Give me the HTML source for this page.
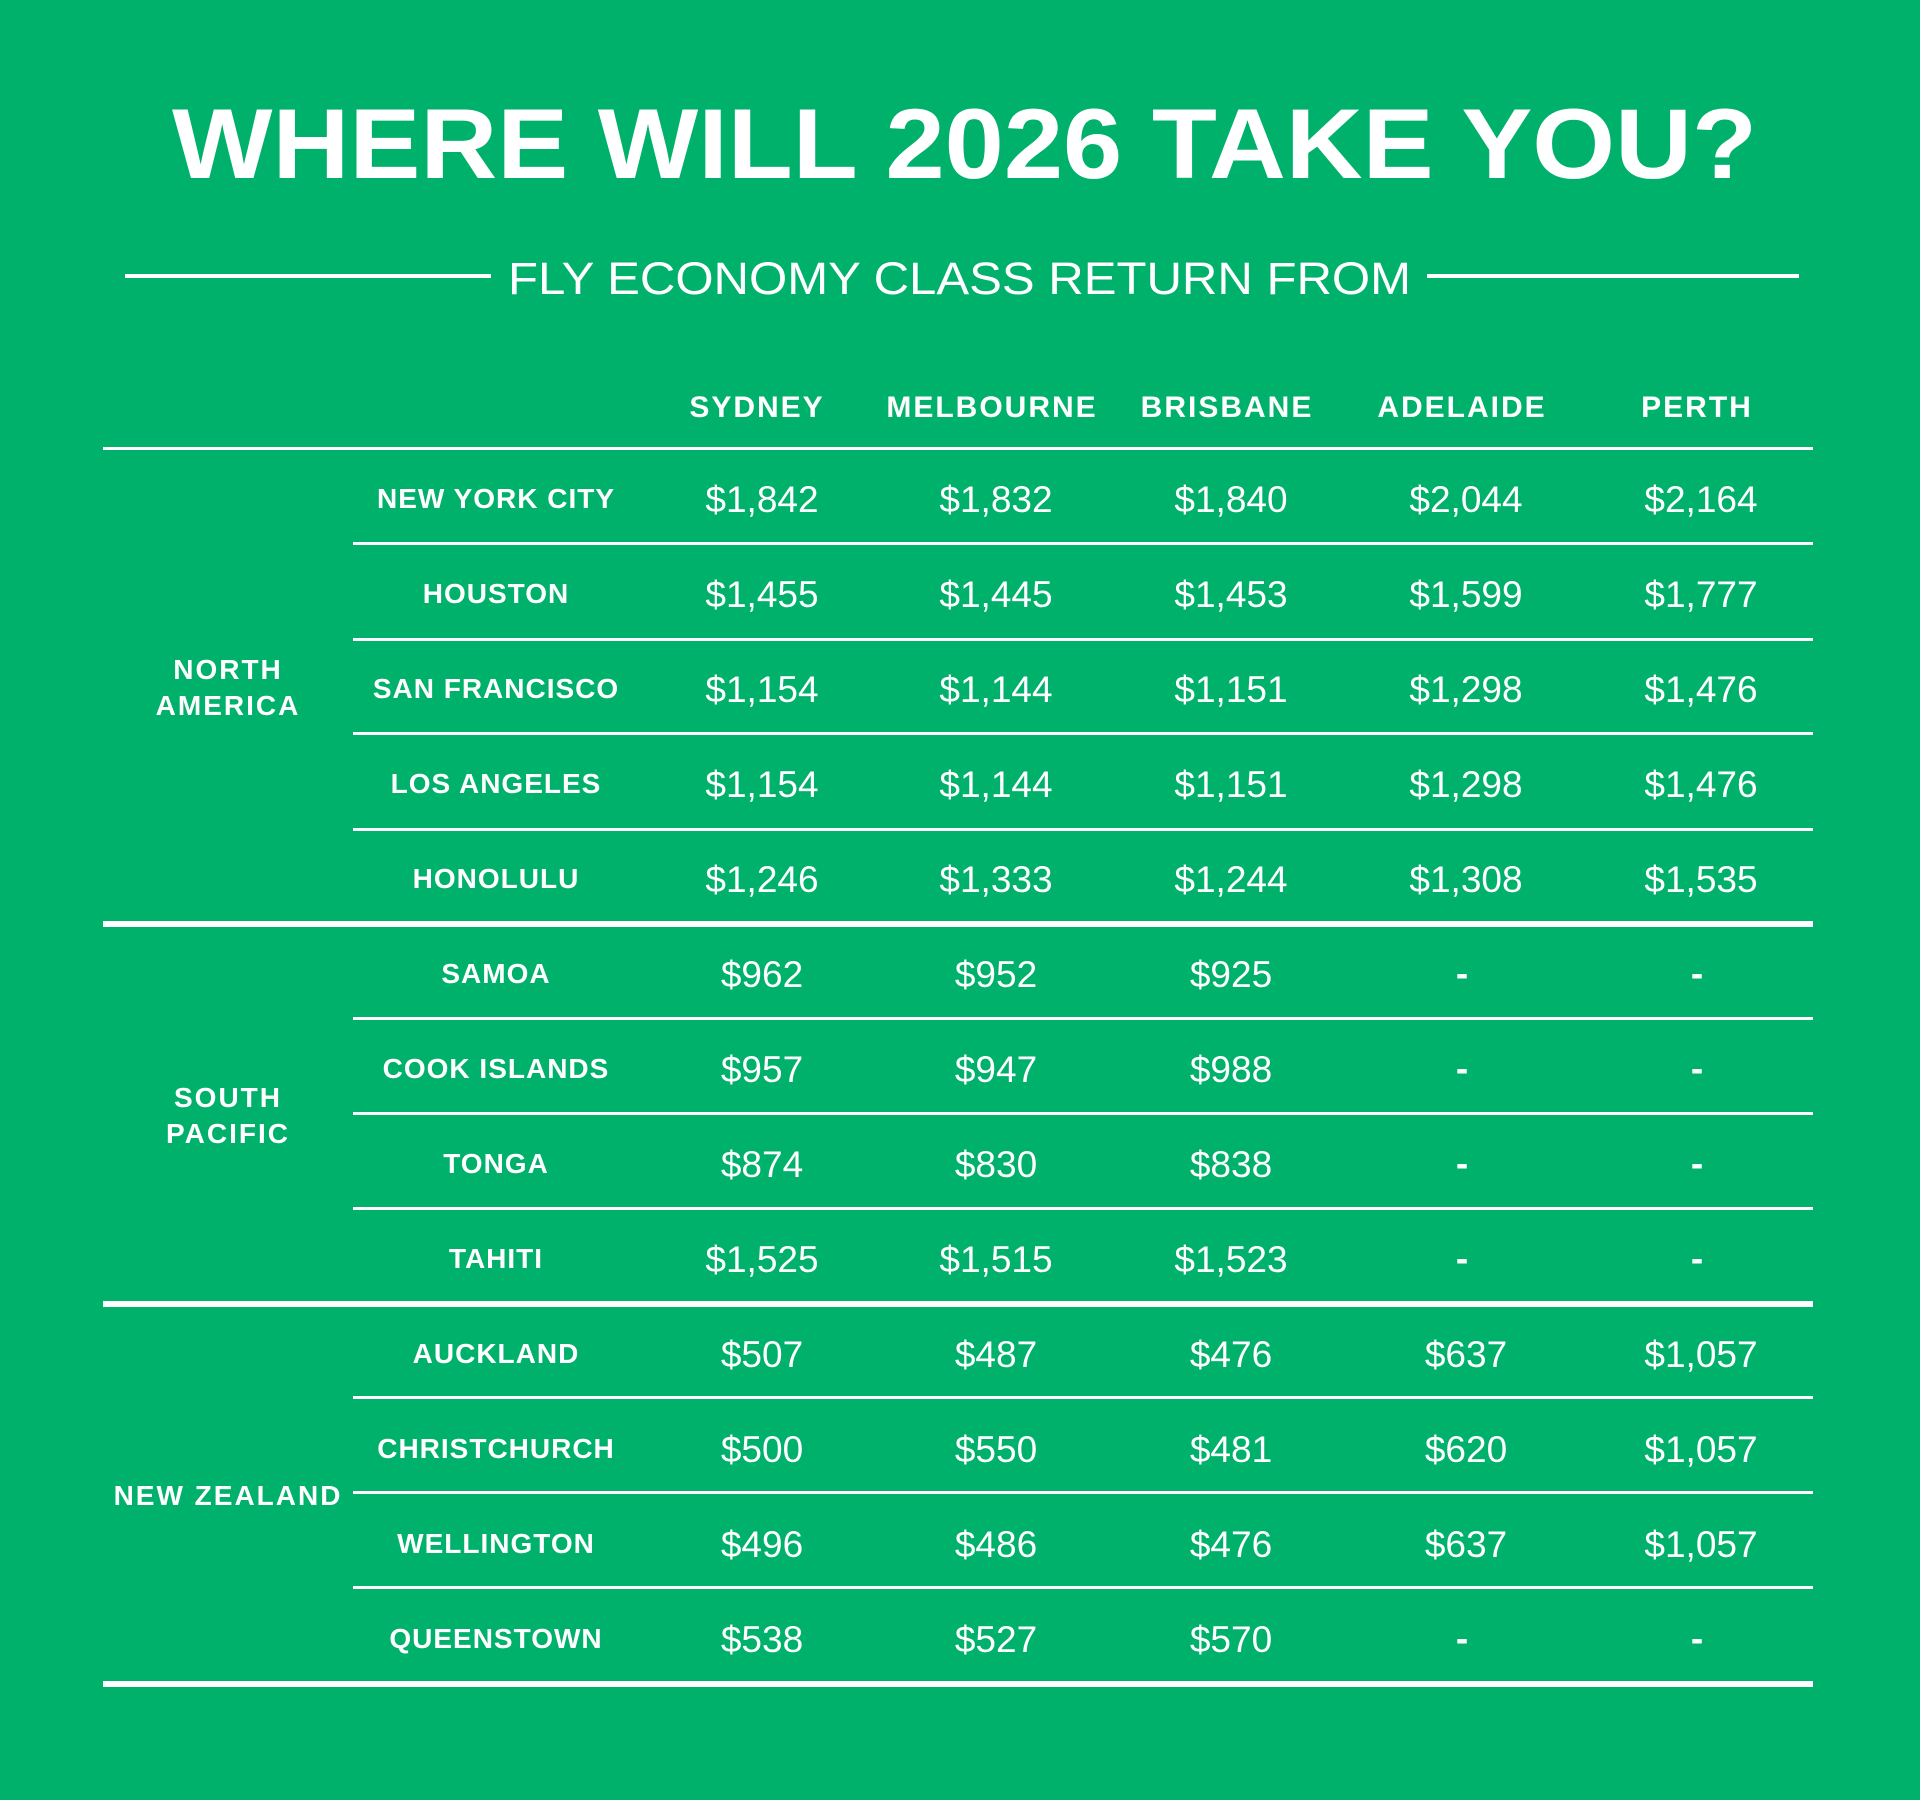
<!DOCTYPE html>
<html><head><meta charset="utf-8"><style>
html,body{margin:0;padding:0;background:#00B16C;}
svg{display:block;}
text{font-family:"Liberation Sans",sans-serif;fill:#fff;}
.h{font-weight:bold;font-size:30px;letter-spacing:2px;text-anchor:middle;}
.c{font-weight:bold;font-size:28px;letter-spacing:1px;text-anchor:middle;}
.v{font-size:37px;text-anchor:middle;}
.d{font-size:37px;font-weight:bold;text-anchor:middle;}
.g{font-weight:bold;font-size:28px;letter-spacing:2px;text-anchor:middle;}
</style></head><body>
<svg width="1920" height="1800" viewBox="0 0 1920 1800" xmlns="http://www.w3.org/2000/svg">
<rect width="1920" height="1800" fill="#00B16C"/>
<text x="172" y="178" font-size="99" font-weight="bold" textLength="1585" lengthAdjust="spacingAndGlyphs">WHERE WILL 2026 TAKE YOU?</text>
<rect x="125" y="274" width="366" height="4" fill="#fff"/>
<rect x="1427" y="274" width="372" height="4" fill="#fff"/>
<text x="508" y="294" font-size="45" textLength="903" lengthAdjust="spacingAndGlyphs">FLY ECONOMY CLASS RETURN FROM</text>
<g>
<text class="h" x="757" y="417">SYDNEY</text>
<text class="h" x="992" y="417">MELBOURNE</text>
<text class="h" x="1227" y="417">BRISBANE</text>
<text class="h" x="1462" y="417">ADELAIDE</text>
<text class="h" x="1697" y="417">PERTH</text>
</g>
<rect x="103" y="447" width="1710" height="3" fill="#fff"/>
<g fill="#fff">
<rect x="353" y="542" width="1460" height="3"/>
<rect x="353" y="638" width="1460" height="3"/>
<rect x="353" y="732" width="1460" height="3"/>
<rect x="353" y="828" width="1460" height="3"/>
<rect x="103" y="921" width="1710" height="6"/>
<rect x="353" y="1017" width="1460" height="3"/>
<rect x="353" y="1112" width="1460" height="3"/>
<rect x="353" y="1207" width="1460" height="3"/>
<rect x="103" y="1301" width="1710" height="6"/>
<rect x="353" y="1396" width="1460" height="3"/>
<rect x="353" y="1491" width="1460" height="3"/>
<rect x="353" y="1586" width="1460" height="3"/>
<rect x="103" y="1681" width="1710" height="6"/>
</g>
<text class="g" x="228" y="679">NORTH</text>
<text class="g" x="228" y="715">AMERICA</text>
<text class="g" x="228" y="1107">SOUTH</text>
<text class="g" x="228" y="1143">PACIFIC</text>
<text class="g" x="228" y="1505" letter-spacing="1">NEW ZEALAND</text>

<g>
<text class="c" x="496" y="508">NEW YORK CITY</text><text class="v" x="762" y="512">$1,842</text><text class="v" x="996" y="512">$1,832</text><text class="v" x="1231" y="512">$1,840</text><text class="v" x="1466" y="512">$2,044</text><text class="v" x="1701" y="512">$2,164</text>
<text class="c" x="496" y="603">HOUSTON</text><text class="v" x="762" y="607">$1,455</text><text class="v" x="996" y="607">$1,445</text><text class="v" x="1231" y="607">$1,453</text><text class="v" x="1466" y="607">$1,599</text><text class="v" x="1701" y="607">$1,777</text>
<text class="c" x="496" y="698">SAN FRANCISCO</text><text class="v" x="762" y="702">$1,154</text><text class="v" x="996" y="702">$1,144</text><text class="v" x="1231" y="702">$1,151</text><text class="v" x="1466" y="702">$1,298</text><text class="v" x="1701" y="702">$1,476</text>
<text class="c" x="496" y="793">LOS ANGELES</text><text class="v" x="762" y="797">$1,154</text><text class="v" x="996" y="797">$1,144</text><text class="v" x="1231" y="797">$1,151</text><text class="v" x="1466" y="797">$1,298</text><text class="v" x="1701" y="797">$1,476</text>
<text class="c" x="496" y="888">HONOLULU</text><text class="v" x="762" y="892">$1,246</text><text class="v" x="996" y="892">$1,333</text><text class="v" x="1231" y="892">$1,244</text><text class="v" x="1466" y="892">$1,308</text><text class="v" x="1701" y="892">$1,535</text>

<text class="c" x="496" y="983">SAMOA</text><text class="v" x="762" y="987">$962</text><text class="v" x="996" y="987">$952</text><text class="v" x="1231" y="987">$925</text><text class="d" x="1462" y="986">-</text><text class="d" x="1697" y="986">-</text>
<text class="c" x="496" y="1078">COOK ISLANDS</text><text class="v" x="762" y="1082">$957</text><text class="v" x="996" y="1082">$947</text><text class="v" x="1231" y="1082">$988</text><text class="d" x="1462" y="1081">-</text><text class="d" x="1697" y="1081">-</text>
<text class="c" x="496" y="1173">TONGA</text><text class="v" x="762" y="1177">$874</text><text class="v" x="996" y="1177">$830</text><text class="v" x="1231" y="1177">$838</text><text class="d" x="1462" y="1176">-</text><text class="d" x="1697" y="1176">-</text>
<text class="c" x="496" y="1268">TAHITI</text><text class="v" x="762" y="1272">$1,525</text><text class="v" x="996" y="1272">$1,515</text><text class="v" x="1231" y="1272">$1,523</text><text class="d" x="1462" y="1271">-</text><text class="d" x="1697" y="1271">-</text>

<text class="c" x="496" y="1363">AUCKLAND</text><text class="v" x="762" y="1367">$507</text><text class="v" x="996" y="1367">$487</text><text class="v" x="1231" y="1367">$476</text><text class="v" x="1466" y="1367">$637</text><text class="v" x="1701" y="1367">$1,057</text>
<text class="c" x="496" y="1458">CHRISTCHURCH</text><text class="v" x="762" y="1462">$500</text><text class="v" x="996" y="1462">$550</text><text class="v" x="1231" y="1462">$481</text><text class="v" x="1466" y="1462">$620</text><text class="v" x="1701" y="1462">$1,057</text>
<text class="c" x="496" y="1553">WELLINGTON</text><text class="v" x="762" y="1557">$496</text><text class="v" x="996" y="1557">$486</text><text class="v" x="1231" y="1557">$476</text><text class="v" x="1466" y="1557">$637</text><text class="v" x="1701" y="1557">$1,057</text>
<text class="c" x="496" y="1648">QUEENSTOWN</text><text class="v" x="762" y="1652">$538</text><text class="v" x="996" y="1652">$527</text><text class="v" x="1231" y="1652">$570</text><text class="d" x="1462" y="1651">-</text><text class="d" x="1697" y="1651">-</text>
</g>
</svg>
</body></html>
